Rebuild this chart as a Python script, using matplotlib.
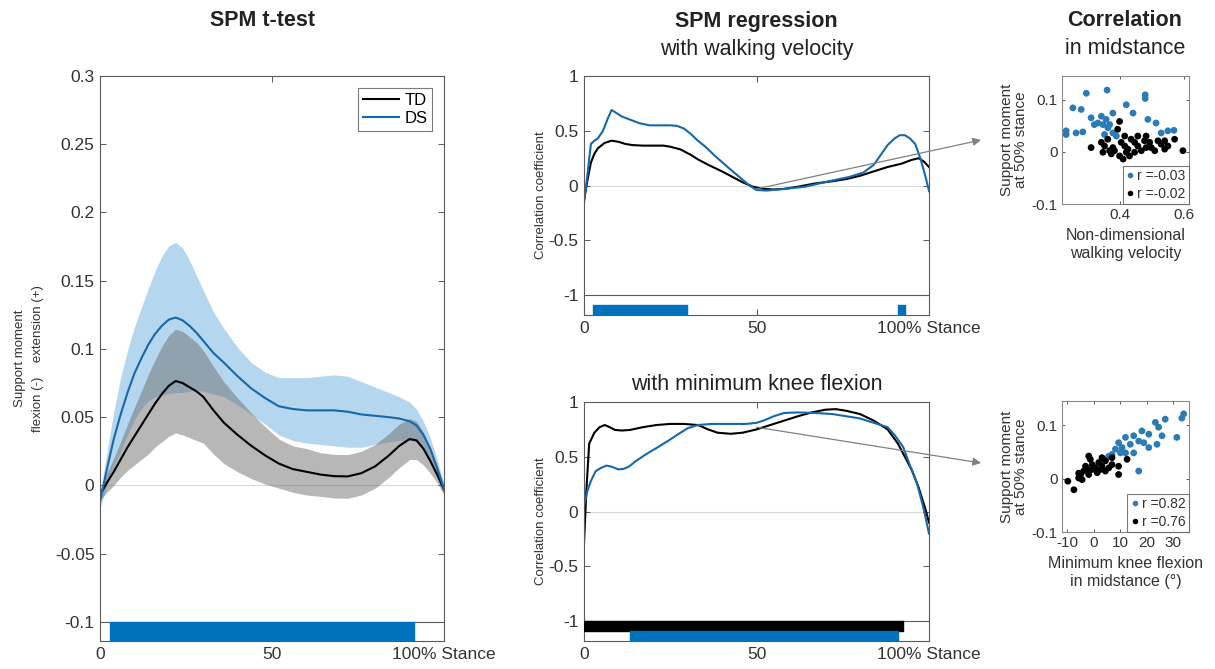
import matplotlib
matplotlib.use('Agg')
import numpy as np
import matplotlib.pyplot as plt
from matplotlib.patches import ConnectionPatch
from matplotlib.lines import Line2D

plt.rcParams['font.family'] = ['Liberation Sans', 'DejaVu Sans']

# ---------------- data ----------------
stance = [0, 2, 4, 6, 8, 10, 12, 14, 16, 18, 20, 22, 24, 26, 28, 30, 33, 36, 40, 44, 48,
          52, 56, 60, 64, 68, 72, 76, 80, 84, 87, 90, 92, 94, 96, 98, 100]
td_mean = [-0.007, 0.002, 0.010, 0.019, 0.028, 0.036, 0.044, 0.052, 0.060, 0.067, 0.073, 0.0765,
           0.075, 0.072, 0.069, 0.065, 0.055, 0.046, 0.037, 0.029, 0.022, 0.016, 0.012, 0.010,
           0.008, 0.0068, 0.0066, 0.009, 0.014, 0.022, 0.029, 0.034, 0.033, 0.027, 0.018, 0.008, -0.003]
td_sd = [0.004, 0.007, 0.010, 0.013, 0.017, 0.021, 0.025, 0.029, 0.032, 0.035, 0.037, 0.038,
         0.038, 0.037, 0.036, 0.034, 0.032, 0.030, 0.027, 0.024, 0.021, 0.018, 0.017, 0.017,
         0.016, 0.016, 0.016, 0.016, 0.016, 0.016, 0.016, 0.015, 0.014, 0.012, 0.009, 0.006, 0.004]
ds_mean = [-0.012, 0.012, 0.034, 0.052, 0.068, 0.082, 0.093, 0.103, 0.111, 0.117, 0.1215, 0.123,
           0.121, 0.117, 0.112, 0.106, 0.097, 0.090, 0.080, 0.071, 0.064, 0.058, 0.056, 0.055,
           0.055, 0.055, 0.054, 0.052, 0.051, 0.050, 0.049, 0.047, 0.044, 0.037, 0.027, 0.013, -0.003]
ds_sd = [0.005, 0.012, 0.020, 0.027, 0.031, 0.034, 0.037, 0.041, 0.046, 0.051, 0.054, 0.055,
         0.053, 0.048, 0.042, 0.037, 0.030, 0.025, 0.021, 0.019, 0.019, 0.021, 0.023, 0.024,
         0.025, 0.026, 0.026, 0.024, 0.021, 0.018, 0.016, 0.014, 0.012, 0.010, 0.008, 0.006, 0.004]
ttest_sig = [(2.9, 91.3)]          # % stance, DS vs TD

vel_td_x = [0, 1, 2, 3, 4, 6, 8, 10, 12, 14, 17, 20, 23, 25, 28, 31, 33, 36, 40, 43, 46, 49,
            52, 55, 58, 62, 67, 72, 76, 80, 84, 88, 92, 95, 97, 98.5, 100]
vel_td_r = [-0.13, 0.05, 0.21, 0.29, 0.34, 0.39, 0.41, 0.40, 0.38, 0.37, 0.365, 0.365, 0.365,
            0.355, 0.33, 0.28, 0.24, 0.19, 0.13, 0.08, 0.03, -0.01, -0.03, -0.035, -0.03, -0.01,
            0.02, 0.04, 0.06, 0.09, 0.13, 0.17, 0.20, 0.235, 0.25, 0.22, 0.17]
vel_ds_x = [0, 1, 2, 3, 4, 5.5, 7, 8, 9, 11, 13.5, 16, 19, 22, 25, 27, 29, 31, 33, 35, 38, 42,
            45, 48, 50, 53, 58, 64, 71, 77, 81, 84, 86, 88, 90, 91.5, 93, 94.5, 96, 97.5, 99, 100]
vel_ds_r = [-0.16, 0.10, 0.38, 0.41, 0.43, 0.50, 0.62, 0.69, 0.67, 0.63, 0.60, 0.57, 0.55, 0.55,
            0.55, 0.545, 0.52, 0.47, 0.41, 0.36, 0.27, 0.16, 0.08, 0.0, -0.04, -0.045, -0.03,
            -0.01, 0.04, 0.08, 0.12, 0.19, 0.28, 0.37, 0.43, 0.46, 0.46, 0.43, 0.38, 0.25, 0.08, -0.05]
vel_sig_td = []
vel_sig_ds = [(2.6, 29.9), (91.0, 93.0)]

knee_td_x = [0, 0.7, 1.5, 3, 4.5, 6, 7.5, 9, 11, 13.3, 17, 21, 25, 29, 33, 36, 38.7, 42.5, 46,
             50, 54, 58, 62, 66, 70, 73, 76, 80, 84, 88, 91, 93, 95, 97, 99, 100]
knee_td_r = [-0.29, 0.20, 0.62, 0.72, 0.77, 0.79, 0.77, 0.745, 0.74, 0.745, 0.77, 0.79, 0.80,
             0.80, 0.79, 0.75, 0.72, 0.71, 0.72, 0.75, 0.79, 0.83, 0.87, 0.905, 0.93, 0.935,
             0.92, 0.89, 0.83, 0.75, 0.62, 0.50, 0.38, 0.22, 0.02, -0.10]
knee_ds_x = [0, 1, 2, 3.4, 5, 6.5, 8, 10, 11.5, 13, 15, 17.8, 21, 24.6, 27, 30, 33, 37, 42, 47,
             50, 52, 55, 58, 62, 67, 72, 76, 80, 85, 88, 90, 92.5, 94.5, 96.5, 98.5, 100]
knee_ds_r = [0.05, 0.19, 0.28, 0.37, 0.40, 0.42, 0.41, 0.385, 0.39, 0.41, 0.46, 0.52, 0.58, 0.65,
             0.70, 0.76, 0.79, 0.80, 0.80, 0.80, 0.81, 0.83, 0.87, 0.90, 0.905, 0.90, 0.89, 0.87,
             0.85, 0.80, 0.77, 0.70, 0.59, 0.42, 0.26, 0.02, -0.20]
knee_sig_td = [(0.0, 92.5)]
knee_sig_ds = [(13.3, 91.0)]

sc_vel_ds_x = [0.295, 0.36, 0.479, 0.479, 0.253, 0.279, 0.42, 0.378, 0.441, 0.31, 0.342, 0.357,
               0.4875, 0.513, 0.331, 0.32, 0.232, 0.232, 0.263, 0.284, 0.3625, 0.378, 0.55, 0.569,
               0.529, 0.352, 0.389, 0.347, 0.368]
sc_vel_ds_y = [0.112, 0.118, 0.109, 0.102, 0.084, 0.081, 0.090, 0.074, 0.074, 0.065, 0.068, 0.062,
               0.062, 0.055, 0.055, 0.052, 0.040, 0.033, 0.036, 0.038, 0.046, 0.036, 0.040, 0.041,
               0.036, 0.033, 0.030, 0.052, 0.052]
sc_vel_td_x = [0.399, 0.393, 0.456, 0.482, 0.519, 0.54, 0.571, 0.31, 0.342, 0.352, 0.368, 0.378,
               0.404, 0.415, 0.425, 0.446, 0.456, 0.467, 0.482, 0.493, 0.498, 0.509, 0.529, 0.55,
               0.597, 0.347, 0.373, 0.399, 0.42, 0.43, 0.446, 0.41, 0.383, 0.362, 0.477, 0.54,
               0.415, 0.435]
sc_vel_td_y = [0.058, 0.043, 0.030, 0.030, 0.021, 0.021, 0.024, 0.008, 0.018, 0.011, 0.002, 0.008,
               0.018, 0.011, 0.005, 0.018, 0.011, 0.002, 0.008, 0.018, 0.008, 0.002, 0.0145, 0.011,
               0.002, -0.001, -0.004, -0.008, -0.001, -0.008, -0.001, -0.014, 0.002, 0.024, 0.021,
               0.005, 0.030, 0.024]
sc_knee_ds_x = [34.0, 33.3, 27.0, 23.3, 24.5, 18.2, 20.8, 15.1, 25.8, 31.4, 12.0, 17.0, 13.8, 23.9,
                20.8, 10.7, 9.4, 8.2, 10.1, 15.1, 6.9, 5.7, 17.0, 12.0, 18.9, 4.4]
sc_knee_ds_y = [0.121, 0.113, 0.111, 0.105, 0.096, 0.089, 0.083, 0.080, 0.080, 0.077, 0.077, 0.070,
                0.064, 0.064, 0.058, 0.058, 0.067, 0.055, 0.048, 0.048, 0.045, 0.042, 0.014, 0.048,
                0.067, 0.036]
sc_knee_td_x = [-1.9, -1.3, 3.1, 4.4, 1.9, -0.6, 0.6, -3.1, -3.8, -5.0, -5.7, -1.9, 1.3, 4.4, 6.9,
                9.4, 12.6, 9.4, -9.8, -7.5, 5.7, 3.1, -4.4, -0.6, 2.5, -2.5, 6.9, -5.7]
sc_knee_td_y = [0.042, 0.036, 0.039, 0.033, 0.030, 0.026, 0.020, 0.023, 0.014, 0.0075, 0.001,
                0.0075, 0.011, 0.014, 0.026, 0.023, 0.036, 0.0075, -0.005, -0.021, 0.020, 0.023,
                -0.002, 0.017, 0.017, 0.017, 0.039, 0.010]
r_vel = ['r =-0.03', 'r =-0.02']      # DS, TD
r_knee = ['r =0.82', 'r =0.76']       # DS, TD

# ---------------- style ----------------
BLUE = '#1668a8'
BAR_BLUE = '#0072BD'
BAND_BLUE = '#6aaee0'
BAND_GRAY = '#707070'
FRAME = '#5a5a5a'
TXT = '#333333'
ZERO = '#d9d9d9'

W, H = 1215, 669
fig = plt.figure(figsize=(W / 100, H / 100), dpi=100)


def rect(l, t, r, b):
    return [l / W, 1 - b / H, (r - l) / W, (b - t) / H]


def style(ax, fs, pad=4):
    for s in ax.spines.values():
        s.set_color(FRAME)
        s.set_linewidth(0.8)
    ax.tick_params(direction='in', top=True, right=True, length=4, width=0.7,
                   color=FRAME, labelcolor=TXT, labelsize=fs, pad=pad)


# ---------------- left: SPM t-test ----------------
ax1 = fig.add_axes(rect(100, 76, 444, 641))
x = np.array(stance)
tdm, tds = np.array(td_mean), np.array(td_sd)
dsm, dss = np.array(ds_mean), np.array(ds_sd)
ax1.axhline(0, color=ZERO, lw=0.8, zorder=0)
ax1.fill_between(x, dsm - dss, dsm + dss, color=BAND_BLUE, alpha=0.5, lw=0)
ax1.fill_between(x, tdm - tds, tdm + tds, color=BAND_GRAY, alpha=0.5, lw=0)
ax1.plot(x, tdm, color='black', lw=1.5, label='TD')
ax1.plot(x, dsm, color=BLUE, lw=1.5, label='DS')
ax1.axhline(-0.1, color=FRAME, lw=0.8)
ax1.broken_barh([(a, b - a) for a, b in ttest_sig], (-0.114, 0.014), color=BAR_BLUE, zorder=3)
ax1.set_xlim(0, 100)
ax1.set_ylim(-0.114, 0.3)
ax1.set_xticks([0, 50, 100])
ax1.set_xticklabels(['0', '50', '100% Stance'])
yt = [-0.1, -0.05, 0, 0.05, 0.1, 0.15, 0.2, 0.25, 0.3]
ax1.set_yticks(yt)
ax1.set_yticklabels(['-0.1', '-0.05', '0', '0.05', '0.1', '0.15', '0.2', '0.25', '0.3'])
style(ax1, 12.5)
ax1.set_ylabel('Support moment\nflexion (-)    extension (+)', fontsize=9.5, color=TXT,
               labelpad=8, linespacing=1.6)
leg = ax1.legend(loc='upper right', fontsize=12, frameon=True, fancybox=False,
                 handlelength=2.2, handletextpad=0.3, borderpad=0.3, labelspacing=0.2,
                 borderaxespad=0.7)
leg.get_frame().set_edgecolor(FRAME)
leg.get_frame().set_linewidth(0.8)

# ---------------- middle: SPM regression ----------------
def reg_axes(r, tx, tr, dx, dr, sig_td, sig_ds):
    ax = fig.add_axes(r)
    ax.axhline(0, color=ZERO, lw=0.8, zorder=0)
    ax.plot(tx, tr, color='black', lw=1.5)
    ax.plot(dx, dr, color=BLUE, lw=1.5)
    ax.axhline(-1, color=FRAME, lw=0.8)
    if sig_td:
        ax.broken_barh([(a, b - a) for a, b in sig_td], (-1.085, 0.085), color='black', zorder=3)
    if sig_ds:
        ax.broken_barh([(a, b - a) for a, b in sig_ds], (-1.17, 0.08), color=BAR_BLUE, zorder=3)
    ax.set_xlim(0, 100)
    ax.set_ylim(-1.18, 1)
    ax.set_xticks([0, 50, 100])
    ax.set_xticklabels(['0', '50', '100% Stance'])
    ax.set_yticks([-1, -0.5, 0, 0.5, 1])
    ax.set_yticklabels(['-1', '-0.5', '0', '0.5', '1'])
    style(ax, 12.5)
    ax.set_ylabel('Correlation coefficient', fontsize=9.5, color=TXT, labelpad=1)
    return ax


ax2 = reg_axes(rect(584, 76, 929, 315), vel_td_x, vel_td_r, vel_ds_x, vel_ds_r,
               vel_sig_td, vel_sig_ds)
ax3 = reg_axes(rect(584, 402, 929, 641), knee_td_x, knee_td_r, knee_ds_x, knee_ds_r,
               knee_sig_td, knee_sig_ds)

# ---------------- right: correlation scatters ----------------
def scat(r, dx, dy, tx, ty, labels, xlim, xticks, xlabel):
    ax = fig.add_axes(r)
    ax.scatter(dx, dy, s=24, color='#2b7bb5', edgecolors='none', zorder=3)
    ax.scatter(tx, ty, s=24, color='black', edgecolors='none', zorder=3)
    ax.set_xlim(*xlim)
    ax.set_ylim(-0.1, 0.145)
    ax.set_xticks(xticks)
    ax.set_xticklabels([('%g' % v) for v in xticks])
    ax.set_yticks([-0.1, 0, 0.1])
    ax.set_yticklabels(['-0.1', '0', '0.1'])
    style(ax, 11, pad=3)
    ax.tick_params(length=2.5)
    for s in ax.spines.values():
        s.set_color('#8a8a8a')
    ax.set_ylabel('Support moment\nat 50% stance', fontsize=11, color=TXT, labelpad=3,
                  linespacing=1.0)
    ax.set_xlabel(xlabel, fontsize=11.5, color=TXT, labelpad=4, linespacing=1.3)
    hd = Line2D([], [], ls='none', marker='o', ms=3, color='#2b7bb5')
    ht = Line2D([], [], ls='none', marker='o', ms=3, color='black')
    lg = ax.legend([hd, ht], labels, loc='lower right', fontsize=10, frameon=True,
                   fancybox=False, handlelength=0.6, handletextpad=0.2, borderpad=0.25,
                   labelspacing=0.25, borderaxespad=0.0)
    lg.get_frame().set_edgecolor(FRAME)
    lg.get_frame().set_linewidth(0.8)
    for t in lg.get_texts():
        t.set_color(TXT)
    return ax


ax4 = scat(rect(1062, 76, 1189, 204), sc_vel_ds_x, sc_vel_ds_y, sc_vel_td_x, sc_vel_td_y,
           r_vel, (0.219, 0.616), [0.4, 0.6], 'Non-dimensional\nwalking velocity')
ax5 = scat(rect(1062, 401, 1189, 532), sc_knee_ds_x, sc_knee_ds_y, sc_knee_td_x, sc_knee_td_y,
           r_knee, (-12, 36), [-10, 0, 10, 20, 30], 'Minimum knee flexion\nin midstance (°)')

# ---------------- titles ----------------
def ftext(px, py, s, **kw):
    fig.text(px / W, 1 - py / H, s, ha='center', va='center', color='#222222', **kw)


ftext(262, 21, 'SPM t-test', fontsize=15.5, fontweight='bold')
ftext(756, 21, 'SPM regression', fontsize=15.5, fontweight='bold')
ftext(757, 49, 'with walking velocity', fontsize=15.5)
ftext(1125, 21, 'Correlation', fontsize=15.5, fontweight='bold')
ftext(1125, 49, 'in midstance', fontsize=15.5)
ftext(757, 384, 'with minimum knee flexion', fontsize=15.5)

# ---------------- arrows ----------------
for ax, start, end in [(ax2, (50, -0.03), (981, 140)), (ax3, (50, 0.77), (981, 463))]:
    cp = ConnectionPatch(xyA=start, coordsA=ax.transData,
                         xyB=(end[0] / W, 1 - end[1] / H), coordsB=fig.transFigure,
                         arrowstyle='-|>', color='#808080', lw=0.9, mutation_scale=12)
    fig.add_artist(cp)

fig.savefig('out.png', dpi=100)
